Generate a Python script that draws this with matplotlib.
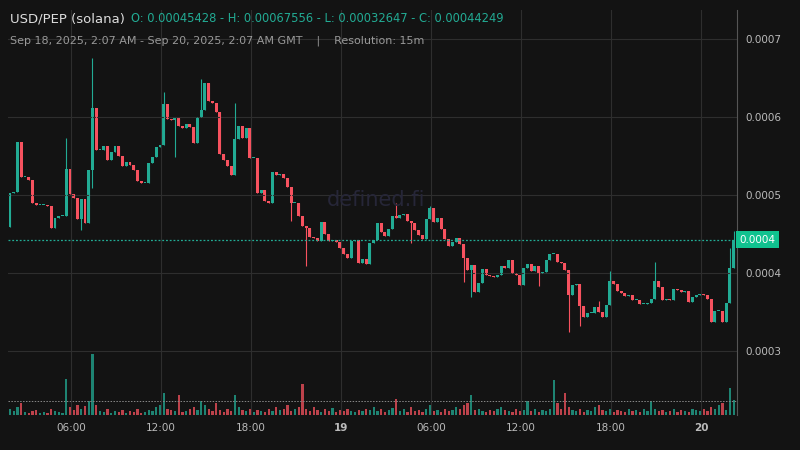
import numpy as np
import matplotlib
matplotlib.use("Agg")
import matplotlib.pyplot as plt

# closes in units of 1e-4 USD, 15m candles
closes = [4.59, 5.03, 5.04, 5.68, 5.23, 5.23, 5.19, 4.90, 4.87, 4.87, 4.87, 4.86, 4.58, 4.71, 4.73, 4.73,
          5.33, 5.01, 4.96, 4.69, 4.95, 4.64, 5.32, 6.12, 5.58, 5.58, 5.63, 5.45, 5.55, 5.63, 5.50, 5.37,
          5.42, 5.38, 5.32, 5.18, 5.15, 5.15, 5.41, 5.49, 5.62, 5.64, 6.17, 5.97, 5.96, 5.99, 5.88, 5.86,
          5.91, 5.87, 5.67, 6.00, 6.09, 6.44, 6.21, 6.18, 6.06, 5.53, 5.45, 5.37, 5.26, 5.72, 5.88, 5.73,
          5.86, 5.47, 5.47, 5.03, 5.06, 4.92, 4.90, 5.29, 5.26, 5.27, 5.22, 5.10, 4.90, 4.90, 4.73, 4.60,
          4.58, 4.46, 4.45, 4.41, 4.65, 4.50, 4.41, 4.42, 4.40, 4.32, 4.24, 4.19, 4.41, 4.42, 4.13, 4.18,
          4.12, 4.38,
          4.42, 4.64, 4.53, 4.47, 4.56, 4.73, 4.71, 4.74, 4.76, 4.67, 4.64, 4.55, 4.49, 4.44, 4.69, 4.83,
          4.65, 4.71, 4.56, 4.44, 4.35, 4.40, 4.45, 4.37, 4.19, 4.04, 4.10, 3.76, 3.87, 4.05, 3.97, 3.96,
          3.95, 3.97, 4.09, 4.06, 4.17, 4.00, 3.97, 3.85, 4.06, 4.12, 4.03, 4.09, 4.00, 4.01, 4.17, 4.24,
          4.24, 4.14,
          4.13, 4.04, 3.72, 3.85, 3.86, 3.58, 3.44, 3.49, 3.49, 3.56, 3.50, 3.44, 3.59, 3.90, 3.86, 3.77,
          3.74, 3.71, 3.72, 3.65, 3.65, 3.60, 3.60, 3.62, 3.67, 3.90, 3.82, 3.65, 3.67, 3.65, 3.79, 3.78,
          3.76, 3.77, 3.63, 3.69, 3.72, 3.73, 3.72, 3.67, 3.37, 3.51, 3.51, 3.37, 3.62, 4.06, 4.425]
first_open = 4.55

# notable wicks: index -> price
wick_hi = {16: 5.73, 23: 6.76, 42: 6.32, 52: 6.49, 61: 6.18, 104: 4.90, 113: 4.86,
           158: 3.64, 161: 4.03, 173: 4.14, 193: 4.32, 194: 4.54}
wick_lo = {20: 4.55, 23: 5.09, 45: 5.49, 76: 4.67, 80: 4.09, 108: 4.38, 122: 3.88,
           124: 3.69, 142: 3.83, 150: 3.24, 153: 3.32}

volumes = [3, 6, 4, 8, 12, 3, 2, 4, 5, 2, 3, 2, 6, 4, 3, 2,
           36, 8, 5, 10, 6, 9, 14, 61, 10, 4, 3, 6, 2, 4, 3, 5,
           2, 4, 3, 6, 2, 3, 5, 4, 8, 10, 22, 6, 5, 4, 20, 3,
           4, 6, 8, 5, 14, 10, 6, 4, 12, 5, 3, 6, 4, 20, 8, 5,
           4, 6, 3, 5, 4, 3, 6, 4, 8, 5, 6, 10, 4, 6, 8, 31,
           6, 4, 8, 5, 3, 6, 4, 7, 3, 5, 4, 6, 4, 3, 5, 4,
           6, 5, 8, 4, 6, 3, 5, 7, 16, 4, 6, 3, 8, 4, 5, 3,
           6, 10, 4, 5, 3, 6, 4, 5, 8, 6, 10, 12, 20, 5, 6, 4,
           3, 5, 4, 6, 8, 5, 4, 3, 6, 4, 5, 14, 4, 6, 3, 5,
           4, 6, 35, 12, 6, 22, 8, 5, 4, 6, 3, 5, 4, 8, 10, 5,
           4, 6, 3, 5, 4, 3, 6, 4, 5, 3, 6, 4, 14, 6, 4, 5,
           3, 4, 6, 3, 5, 4, 3, 6, 5, 4, 6, 4, 8, 6, 10, 12, 5, 27, 15]

tick_pos = [16.27, 40.27, 64.27, 88.27, 112.27, 136.27, 160.27, 184.27]
tick_labels = ["06:00", "12:00", "18:00", "19", "06:00", "12:00", "18:00", "20"]
y_ticks = [3, 4, 5, 6, 7]
y_labels = ["0.0003", "0.0004", "0.0005", "0.0006", "0.0007"]

GREEN = "#22ab94"
RED = "#f7525f"
BG = "#131313"

n = len(closes)
opens = [first_open] + closes[:-1]
idx = np.arange(n)
vols = volumes[-n:]
shift = n - 194

fig = plt.figure(figsize=(8, 4.5), dpi=100, facecolor=BG)
ax = fig.add_axes([8 / 800, 35 / 450, 729 / 800, 405 / 450], facecolor=BG)
vax = ax.twinx()

# y: 0.0004 at px 273, 78 px per 1e-4; axes spans px 10..415
ax.set_ylim(4 - (415 - 273) / 78, 4 + (273 - 10) / 78)
ax.set_xlim(-0.53 + shift, 193.9 + shift)
vax.set_ylim(0, 405)
vax.set_zorder(0)
ax.set_zorder(1)
ax.patch.set_visible(False)

for i in idx:
    o, c = opens[i], closes[i]
    col = GREEN if c >= o else RED
    hi = wick_hi.get(i, max(o, c))
    lo = wick_lo.get(i, min(o, c))
    ax.vlines(i, lo, hi, color=col, lw=0.8)
    h = abs(c - o)
    ax.bar(i, max(h, 0.012), bottom=min(o, c), width=0.78, color=col, lw=0)
    if i < len(vols):
        vax.bar(i, vols[i], width=0.6, color=col, alpha=0.75, lw=0)

vax.axhline(14, color="#888888", ls=(0, (1.5, 1.5)), lw=0.7)
vax.set_yticks([])

ax.set_yticks(y_ticks)
ax.set_yticklabels(y_labels)
ax.yaxis.tick_right()
ax.set_xticks([p + shift for p in tick_pos])
ax.set_xticklabels(tick_labels)
for lab in ax.get_xticklabels():
    if lab.get_text() in ("19", "20"):
        lab.set_fontweight("bold")
        lab.set_color("#e0e0e0")
ax.tick_params(colors="#bbbbbb", labelsize=7.5, length=0, pad=6)
ax.grid(True, color="#2e2e2e", lw=0.8)
for s in ax.spines.values():
    s.set_visible(False)
for s in vax.spines.values():
    s.set_visible(False)
ax.spines["right"].set_visible(True)
ax.spines["right"].set_color("#555555")

last = closes[-1]
ax.axhline(last, color=GREEN, ls=(0, (1.5, 1.5)), lw=0.9)
ax.text(1.003, last, "0.0004", transform=ax.get_yaxis_transform(), va="center", ha="left",
        fontsize=7.5, color="white",
        bbox=dict(boxstyle="square,pad=0.35", fc="#10c28f", ec="none"))

fig.text(0.47, 0.555, "defined.fi", fontsize=15, color="#262638", ha="center", va="center")

fig.text(10 / 800, 1 - 19 / 450, "USD/PEP (solana)", fontsize=9.5, color="#dddddd", va="center")
fig.text(131 / 800, 1 - 19 / 450, "O: 0.00045428 - H: 0.00067556 - L: 0.00032647 - C: 0.00044249",
         fontsize=8.3, color=GREEN, va="center")
fig.text(10 / 800, 1 - 41 / 450,
         "Sep 18, 2025, 2:07 AM - Sep 20, 2025, 2:07 AM GMT    |    Resolution: 15m",
         fontsize=8, color="#999999", va="center")

fig.savefig("out.png", facecolor=BG)
